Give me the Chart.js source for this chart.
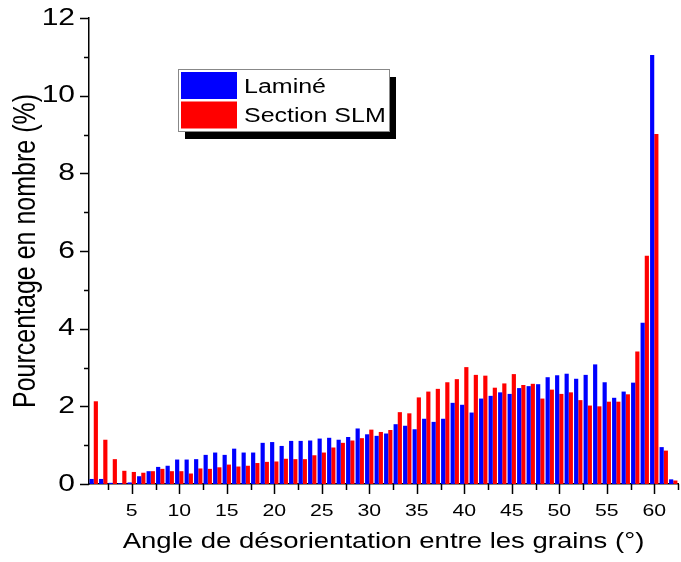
<!DOCTYPE html>
<html>
<head>
<meta charset="utf-8">
<script src="https://cdn.jsdelivr.net/npm/chart.js@4"></script>
<style>
  body { margin: 0; background: #fff; }
  #boite { width: 681px; height: 562px; }
</style>
</head>
<body>
<div id="boite"><canvas id="grafico_angles"></canvas></div>
<script>
var angles = [];
for (var a = 1; a <= 62; a++) angles.push(a);

var valeursLamine = [
    0.13, 0.13, 0.03, 0.02, 0.04, 0.20, 0.33, 0.44, 0.47, 0.63,
    0.63, 0.64, 0.75, 0.81, 0.75, 0.91, 0.81, 0.81, 1.06, 1.08,
    0.98, 1.11, 1.11, 1.12, 1.17, 1.19, 1.14, 1.21, 1.43, 1.28,
    1.24, 1.30, 1.54, 1.50, 1.41, 1.68, 1.60, 1.68, 2.09, 2.04,
    1.84, 2.20, 2.27, 2.36, 2.32, 2.47, 2.52, 2.57, 2.75, 2.80,
    2.84, 2.71, 2.81, 3.08, 2.62, 2.22, 2.38, 2.61, 4.15, 11.05,
    0.95, 0.12
];
var valeursSLM = [
    2.13, 1.14, 0.64, 0.34, 0.31, 0.29, 0.33, 0.39, 0.33, 0.33,
    0.27, 0.40, 0.39, 0.43, 0.50, 0.45, 0.47, 0.54, 0.57, 0.58,
    0.65, 0.64, 0.64, 0.74, 0.81, 0.94, 1.06, 1.12, 1.18, 1.40,
    1.34, 1.39, 1.85, 1.82, 2.23, 2.38, 2.45, 2.62, 2.70, 3.01,
    2.81, 2.79, 2.48, 2.59, 2.83, 2.55, 2.58, 2.20, 2.43, 2.32,
    2.36, 2.16, 2.02, 2.00, 2.12, 2.12, 2.31, 3.41, 5.88, 9.01,
    0.86, 0.09
];
var ticksX = [5, 10, 15, 20, 25, 30, 35, 40, 45, 50, 55, 60];
var ticksY = [0, 2, 4, 6, 8, 10, 12];

var police = "'Liberation Sans', Arial, sans-serif";

// le texte de l'image d'origine est etire en largeur
var etirement = 1.25;
var canvas = document.getElementById('grafico_angles');
var ctx = canvas.getContext('2d');
var fillTextOriginal = CanvasRenderingContext2D.prototype.fillText;
ctx.fillText = function (texte, x, y, maxW) {
    var m = this.getTransform();
    var p = m.transformPoint(new DOMPoint(x, y));
    this.save();
    this.setTransform(new DOMMatrix().translate(p.x, p.y).scale(etirement, 1).translate(-p.x, -p.y).multiply(m));
    if (maxW === undefined) fillTextOriginal.call(this, texte, x, y);
    else fillTextOriginal.call(this, texte, x, y, maxW);
    this.restore();
};

// petits traits des axes (majeurs + mineurs) et la legende avec ombre
var tracosEixos = {
    id: 'tracosEixos',
    afterDraw: function (chart) {
        var c = chart.ctx;
        var sx = chart.scales.x, sy = chart.scales.y;
        var area = chart.chartArea;
        c.save();
        c.strokeStyle = '#000';
        c.lineWidth = 1.5;
        for (var v = 2.5; v <= 62.5; v += 2.5) {
            var px = Math.round(sx.getPixelForValue(v)) + 0.5;
            var len = (v % 5 === 0) ? 10 : 6;
            c.beginPath();
            c.moveTo(px, area.bottom);
            c.lineTo(px, area.bottom + len);
            c.stroke();
        }
        for (var w = 0; w <= 12; w += 1) {
            var py = Math.round(sy.getPixelForValue(w)) + 0.5;
            var l = (w % 2 === 0) ? 9 : 5;
            c.beginPath();
            c.moveTo(area.left, py);
            c.lineTo(area.left - l, py);
            c.stroke();
        }

        // legende
        var bx = 178, by = 69, bw = 211, bh = 62;
        c.fillStyle = '#000';
        c.fillRect(bx + 7, by + 8, bw, bh);
        c.fillStyle = '#fff';
        c.fillRect(bx, by, bw, bh);
        c.strokeStyle = '#888';
        c.lineWidth = 1;
        c.strokeRect(bx + 0.5, by + 0.5, bw, bh);
        c.font = '20px ' + police;
        c.textBaseline = 'alphabetic';
        c.textAlign = 'left';
        chart.data.datasets.forEach(function (ds, i) {
            var y0 = by + 3 + i * 29.5;
            c.fillStyle = ds.backgroundColor;
            c.fillRect(bx + 3, y0, 56, 27);
            c.fillStyle = '#000';
            c.fillText(ds.label, bx + 66, y0 + 20.5);
        });
        c.restore();
    }
};

var graficoAngles = new Chart(ctx, {
    type: 'bar',
    data: {
        datasets: [{
            label: 'Laminé',
            backgroundColor: '#0000ff',
            data: angles.map(function (a, i) { return { x: a, y: valeursLamine[i] }; })
        }, {
            label: 'Section SLM',
            backgroundColor: '#ff0000',
            data: angles.map(function (a, i) { return { x: a, y: valeursSLM[i] }; })
        }]
    },
    options: {
        responsive: true,
        maintainAspectRatio: false,
        animation: false,
        categoryPercentage: 0.88,
        barPercentage: 1,
        layout: { padding: { top: 18, right: 3, left: 0, bottom: 0 } },
        plugins: {
            legend: { display: false },
            tooltip: { enabled: false }
        },
        scales: {
            x: {
                type: 'linear',
                min: 0.5,
                max: 62.5,
                offset: false,
                afterFit: function (s) {
                    s.height = 78;
                    s.paddingLeft = 0; s.paddingRight = 0;
                },
                grid: { display: false, drawTicks: false },
                border: { display: true, color: '#000', width: 1.5 },
                afterBuildTicks: function (s) {
                    s.ticks = ticksX.map(function (v) { return { value: v }; });
                },
                ticks: {
                    autoSkip: false,
                    maxRotation: 0,
                    padding: 17,
                    color: '#000',
                    font: { family: police, size: 17 }
                },
                title: {
                    display: true,
                    text: 'Angle de désorientation entre les grains (°)',
                    color: '#000',
                    font: { family: police, size: 22 },
                    padding: { top: 0, bottom: 7 }
                }
            },
            y: {
                min: 0,
                max: 12,
                afterFit: function (s) {
                    s.width = 89;
                    s.paddingTop = 0; s.paddingBottom = 0;
                },
                grid: { display: false, drawTicks: false },
                border: { display: true, color: '#000', width: 1.5 },
                afterBuildTicks: function (s) {
                    s.ticks = ticksY.map(function (v) { return { value: v }; });
                },
                ticks: {
                    padding: 14,
                    color: '#000',
                    font: { family: police, size: 24 }
                },
                title: {
                    display: true,
                    text: 'Pourcentage en nombre (%)',
                    color: '#000',
                    font: { family: police, size: 25 },
                    padding: { top: 11, bottom: 0 }
                }
            }
        }
    },
    plugins: [tracosEixos]
});
</script>
</body>
</html>
